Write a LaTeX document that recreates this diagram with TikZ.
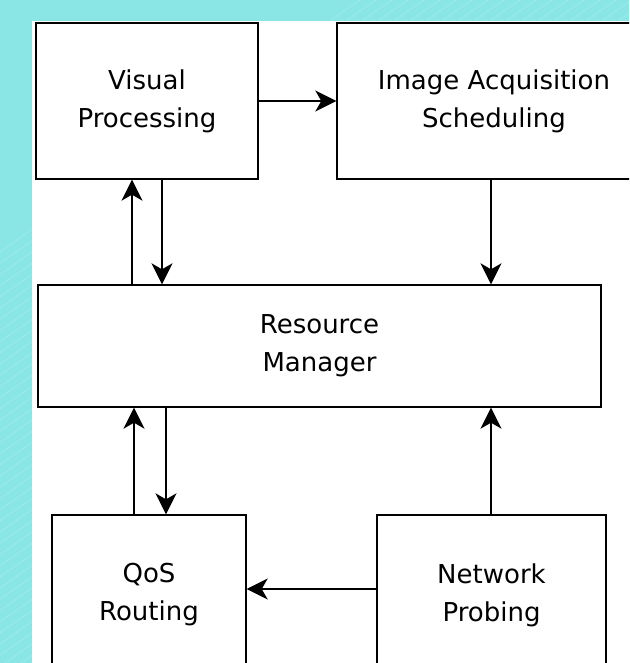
\documentclass[tikz,border=0pt]{standalone}
\usepackage{fontspec}
\setmainfont{DejaVu Sans}
\usetikzlibrary{arrows.meta}
\definecolor{bgcyan}{RGB}{138,229,229}
\tikzset{
  blockbox/.style={draw=black, line width=1.4pt, fill=white, inner sep=0pt, align=center,
    font=\fontsize{26}{38}\selectfont},
  arr/.style={line width=1.3pt, -{Stealth[length=21pt,width=21pt,inset=6pt]}},
}
\begin{document}
\begin{tikzpicture}[x=1pt,y=-1pt]
\useasboundingbox (0,0) rectangle (629,663);
\clip (0,0) rectangle (629,663);
\fill[bgcyan] (0,0) rectangle (629,663);
\begin{scope}
  \clip (0,0) rectangle (629,663);
  \foreach \k in {-40,...,40} {
    \draw[white, opacity=0.3, line width=0.4pt] (\k*16,700) -- ++(1200,-840);
  }
\end{scope}
\fill[white] (32,21) rectangle (640,670);
% blocks
\node[blockbox, minimum width=222pt, minimum height=156pt] (V) at (147,101) {Visual\\Processing};
\node[blockbox, minimum width=314pt, minimum height=156pt] (I) at (494,101) {Image Acquisition\\Scheduling};
\node[blockbox, minimum width=563pt, minimum height=122pt] (RM) at (319.5,346) {Resource\\Manager};
\node[blockbox, minimum width=194pt, minimum height=160pt] (Q) at (149,595) {QoS\\Routing};
\node[blockbox, minimum width=229pt, minimum height=160pt] (N) at (491.5,595) {Network\\Probing};
% connectors
\draw[arr] (V.east) -- (I.west);
\draw[arr] (RM.north -| 132,0) -- (V.south -| 132,0);
\draw[arr] (V.south -| 162,0) -- (RM.north -| 162,0);
\draw[arr] (I.south -| 491,0) -- (RM.north -| 491,0);
\draw[arr] (Q.north -| 134,0) -- (RM.south -| 134,0);
\draw[arr] (RM.south -| 166,0) -- (Q.north -| 166,0);
\draw[arr] (N.north -| 491,0) -- (RM.south -| 491,0);
\draw[arr] (N.west |- 0,589) -- (Q.east |- 0,589);
\end{tikzpicture}
\end{document}
